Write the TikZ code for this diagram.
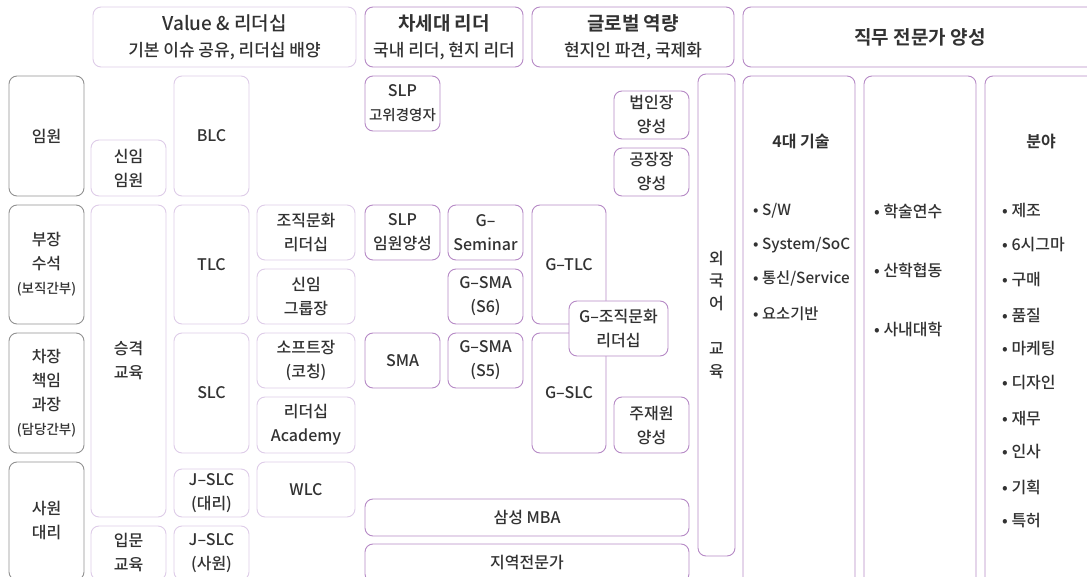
\documentclass[tikz,border=0pt]{standalone}
\usepackage{fontspec}
\setmainfont{Noto Sans CJK KR}[UprightFont={* Medium}, BoldFont={* Bold}]
\usepackage{xcolor}
\usepackage{tikz}
\usetikzlibrary{positioning}
\definecolor{rimgray}{RGB}{145,145,145}
\definecolor{palelilac}{RGB}{222,204,232}
\definecolor{lilac}{RGB}{182,138,198}
\definecolor{inkgray}{RGB}{50,50,50}
\newcommand{\bodyfont}{\fontsize{16}{24}\selectfont}
\newcommand{\smallfont}{\fontsize{13.5}{24}\selectfont}
\newcommand{\subfont}{\fontsize{17}{25}\selectfont}
\newcommand{\headfont}{\fontsize{19}{25}\selectfont}

\tikzset{
  box/.style={draw, rounded corners=8pt, line width=0.9pt, fill=white, text=inkgray,
    align=center, inner sep=0pt, font=\bodyfont},
  graybox/.style={box, draw=rimgray},
  palebox/.style={box, draw=palelilac},
  lilacbox/.style={box, draw=lilac},
  item/.style={anchor=west, inner sep=0pt, text=inkgray, font=\bodyfont},
  techitem/.style={item, font=\fontsize{15.3}{24}\selectfont},
  coltitle/.style={inner sep=0pt, text=inkgray, font=\bodyfont\bfseries},
}

\begin{document}
\begin{tikzpicture}[x=1pt, y=-1pt]
        \useasboundingbox (0,0) rectangle (1087,577);
        \clip (0,0) rectangle (1087,577);
        % Headers
        \node[palebox, minimum width=263, minimum height=60, font=\subfont] (hval) at (224.5,37)
            {{\headfont Value \& 리더십}\\[1pt] 기본 이슈 공유, 리더십 배양};
        \node[lilacbox, minimum width=158, minimum height=60, font=\subfont] (hnext) at (444,37)
            {{\headfont\bfseries 차세대 리더}\\[1pt] 국내 리더, 현지 리더};
        \node[lilacbox, minimum width=202, minimum height=60, font=\subfont] (hglob) at (633,37)
            {{\headfont\bfseries 글로벌 역량}\\[1pt] 현지인 파견, 국제화};
        \node[lilacbox, minimum width=354, minimum height=60, font=\headfont\bfseries] (hjob) at (920,37)
            {직무 전문가 양성};
        % Ranks
        \node[graybox, minimum width=75, minimum height=120] (exec) at (46.5,136) {임원};
        \node[graybox, minimum width=75, minimum height=119] (mgr) at (46.5,264.5)
            {부장\\수석\\{\smallfont(보직간부)}};
        \node[graybox, minimum width=75, minimum height=120] (senior) at (46.5,393)
            {차장\\책임\\과장\\{\smallfont(담당간부)}};
        \node[graybox, minimum width=75, minimum height=118] (staff) at (46.5,521) {사원\\대리};
        % Value & leadership
        \node[palebox, minimum width=75, minimum height=56] (newexec) at (128.5,168) {신임\\임원};
        \node[palebox, minimum width=75, minimum height=312] (promo) at (128.5,361) {승격\\교육};
        \node[palebox, minimum width=75, minimum height=54] (intro) at (128.5,553) {입문\\교육};
        \node[palebox, minimum width=75, minimum height=120] (blc) at (211.5,136) {BLC};
        \node[palebox, minimum width=75, minimum height=119] (tlc) at (211.5,264.5) {TLC};
        \node[palebox, minimum width=75, minimum height=120] (slc) at (211.5,393) {SLC};
        \node[palebox, minimum width=75, minimum height=48] (jslcd) at (211.5,493) {J–SLC\\(대리)};
        \node[palebox, minimum width=75, minimum height=54] (jslcs) at (211.5,553) {J–SLC\\(사원)};
        \node[palebox, minimum width=98, minimum height=55] (orgcul) at (306,232.5) {조직문화\\리더십};
        \node[palebox, minimum width=98, minimum height=55] (newgrp) at (306,296.5) {신임\\그룹장};
        \node[palebox, minimum width=98, minimum height=55] (soft) at (306,360.5) {소프트장\\(코칭)};
        \node[palebox, minimum width=98, minimum height=56] (acad) at (306,425) {리더십\\Academy};
        \node[palebox, minimum width=98, minimum height=55] (wlc) at (306,489.5) {WLC};
        % Next leaders
        \node[lilacbox, minimum width=75, minimum height=55, font=\fontsize{14.5}{24}\selectfont] (slptop)
            at (402.5,103.5) {{\bodyfont SLP}\\고위경영자};
        \node[lilacbox, minimum width=75, minimum height=55] (slpexec) at (402.5,232.5) {SLP\\임원양성};
        \node[lilacbox, minimum width=75, minimum height=55] (sma) at (402.5,360.5) {SMA};
        \node[lilacbox, minimum width=75, minimum height=55] (gsem) at (485.5,232.5) {G–\\Seminar};
        \node[lilacbox, minimum width=75, minimum height=55] (gsmasix) at (485.5,296.5) {G–SMA\\(S6)};
        \node[lilacbox, minimum width=75, minimum height=55] (gsmafive) at (485.5,360.5) {G–SMA\\(S5)};
        % Global
        \node[lilacbox, minimum width=74, minimum height=119] (gtlc) at (569,264.5) {G–TLC};
        \node[lilacbox, minimum width=74, minimum height=120] (gslc) at (569,393) {G–SLC};
        \node[lilacbox, minimum width=99, minimum height=55] (gorg) at (618.5,328.5) {G–조직문화\\리더십};
        \node[lilacbox, minimum width=75, minimum height=48] (corp) at (651.5,115) {법인장\\양성};
        \node[lilacbox, minimum width=75, minimum height=48] (plant) at (651.5,172) {공장장\\양성};
        \node[lilacbox, minimum width=75, minimum height=56] (expat) at (651.5,425) {주재원\\양성};
        \node[lilacbox, minimum width=324, minimum height=37] (mba) at (527,517.5) {삼성 MBA};
        \node[lilacbox, minimum width=324, minimum height=38] (regional) at (527,563) {지역전문가};
        \node[lilacbox, minimum width=37, minimum height=482, font=\fontsize{16}{22.5}\selectfont] (lang)
            at (716.5,315) {외\\국\\어\\[23pt]교\\육};
        % Job experts
        \node[lilacbox, minimum width=112, minimum height=524] (tech) at (799,338) {};
        \node[lilacbox, minimum width=112, minimum height=524] (campus) at (920,338) {};
        \node[lilacbox, minimum width=112, minimum height=524] (field) at (1041,338) {};
        \node[coltitle] (techtitle) at (801,142) {4대 기술};
        \node[coltitle] (fieldtitle) at (1041,142) {분야};
        \node[techitem] (sw) at (753,211) {• S/W};
        \node[techitem] (soc) at (753,245) {• System/SoC};
        \node[techitem] (svc) at (753,279) {• 통신/Service};
        \node[techitem] (parts) at (753,314) {• 요소기반};
        \node[item] (study) at (874,211) {• 학술연수};
        \node[item] (coop) at (874,270) {• 산학협동};
        \node[item] (univ) at (874,329) {• 사내대학};
        \node[item] (fa) at (1002,211) {• 제조};
        \node[item] (fb) at (1002,245) {• 6시그마};
        \node[item] (fc) at (1002,280) {• 구매};
        \node[item] (fd) at (1002,315) {• 품질};
        \node[item] (fe) at (1002,349) {• 마케팅};
        \node[item] (ff) at (1002,383) {• 디자인};
        \node[item] (fg) at (1002,418) {• 재무};
        \node[item] (fh) at (1002,452) {• 인사};
        \node[item] (fi) at (1002,487) {• 기획};
        \node[item] (fj) at (1002,521) {• 특허};
\end{tikzpicture}
\end{document}
